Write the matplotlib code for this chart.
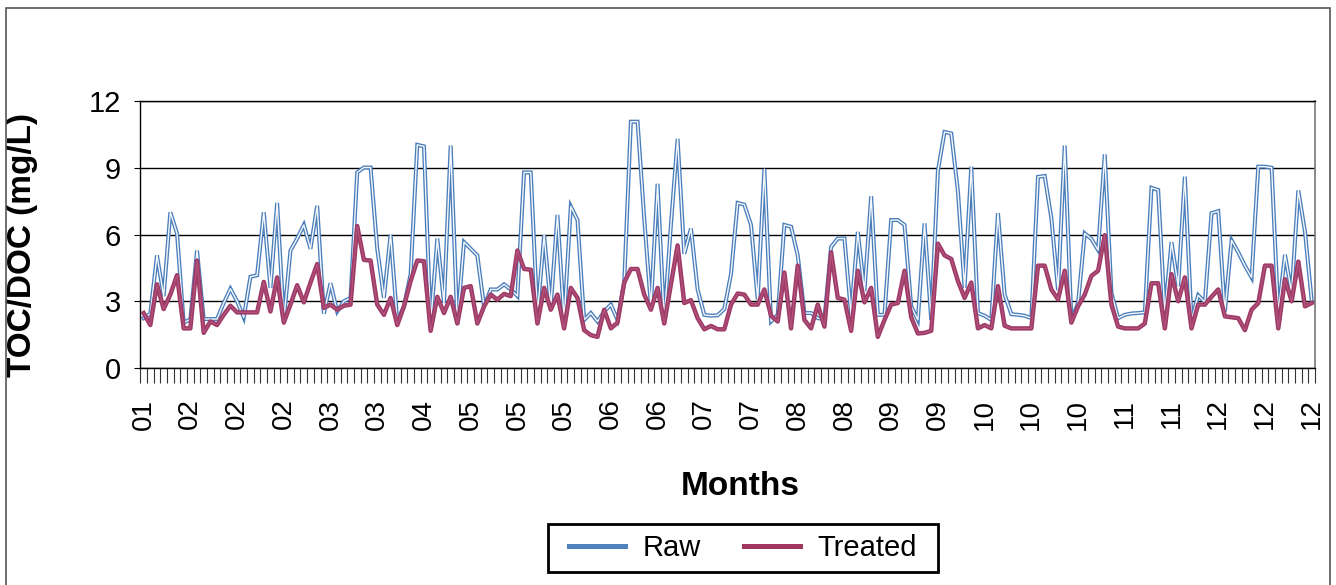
import matplotlib
matplotlib.use("Agg")
import matplotlib.pyplot as plt
from matplotlib.lines import Line2D
from matplotlib.patches import Rectangle
import numpy as np

plt.rcParams["font.family"] = ["Liberation Sans", "DejaVu Sans"]

# weekly TOC/DOC readings over one year
raw = [
    2.24, 2.44, 5.06, 3.23, 7.00, 6.05, 2.04, 2.19, 5.28, 2.20, 2.20, 2.20,
    2.92, 3.56, 3.00, 2.27, 4.10, 4.17, 7.00, 3.60, 7.42, 2.16, 5.28, 5.82,
    6.43, 5.36, 7.29, 2.44, 3.81, 2.54, 3.00, 3.15, 8.79, 9.01, 9.01, 5.36,
    3.15, 6.00, 2.09, 2.77, 4.22, 10.03, 9.96, 2.00, 5.82, 2.92, 10.00, 2.00,
    5.66, 5.36, 5.06, 2.77, 3.53, 3.53, 3.76, 3.53, 3.23, 8.79, 8.79, 2.39,
    5.97, 2.77, 6.88, 2.16, 7.26, 6.65, 2.16, 2.47, 2.09, 2.54, 2.85, 2.16,
    3.84, 11.07, 11.07, 6.73, 2.77, 8.28, 2.16, 6.43, 10.30, 5.13, 6.27, 3.53,
    2.39, 2.35, 2.37, 2.65, 4.22, 7.42, 7.34, 6.43, 3.08, 8.94, 2.09, 2.39,
    6.43, 6.35, 5.06, 2.47, 2.47, 2.24, 2.19, 5.44, 5.82, 5.82, 2.39, 6.12,
    3.46, 7.72, 2.39, 2.39, 6.65, 6.65, 6.43, 2.77, 2.16, 6.50, 2.16, 8.86,
    10.61, 10.54, 7.95, 3.60, 9.05, 2.47, 2.35, 2.16, 6.96, 3.30, 2.42, 2.39,
    2.35, 2.24, 8.59, 8.63, 6.73, 3.50, 10.00, 2.16, 2.92, 6.05, 5.80, 5.30,
    9.60, 3.38, 2.24, 2.39, 2.45, 2.47, 2.50, 8.10, 8.00, 2.47, 5.66, 3.68,
    8.60, 2.16, 3.27, 2.96, 6.96, 7.05, 2.54, 5.74, 5.20, 4.60, 4.07, 9.05,
    9.05, 9.00, 2.47, 5.09, 3.38, 7.98, 6.12, 3.05,
]
treated = [
    2.47, 1.93, 3.76, 2.65, 3.30, 4.17, 1.78, 1.78, 4.83, 1.58, 2.09, 1.93,
    2.39, 2.80, 2.50, 2.50, 2.50, 2.50, 3.87, 2.54, 4.07, 2.04, 2.85, 3.72,
    2.95, 3.84, 4.67, 2.70, 2.85, 2.62, 2.80, 2.85, 6.38, 4.86, 4.83, 2.85,
    2.39, 3.15, 1.93, 2.77, 3.91, 4.83, 4.80, 1.67, 3.20, 2.47, 3.20, 2.00,
    3.60, 3.68, 2.00, 2.77, 3.30, 3.07, 3.33, 3.23, 5.28, 4.45, 4.42, 2.00,
    3.60, 2.62, 3.30, 1.78, 3.60, 3.15, 1.70, 1.48, 1.40, 2.62, 1.78, 2.04,
    3.84, 4.45, 4.45, 3.30, 2.62, 3.60, 2.00, 3.76, 5.51, 2.92, 3.05, 2.24,
    1.74, 1.89, 1.74, 1.74, 2.85, 3.35, 3.30, 2.85, 2.85, 3.53, 2.35, 2.09,
    4.29, 1.78, 4.60, 2.16, 1.78, 2.85, 1.86, 5.20, 3.15, 3.07, 1.67, 4.37,
    2.95, 3.60, 1.40, 2.16, 2.85, 2.92, 4.37, 2.28, 1.55, 1.58, 1.67, 5.59,
    5.06, 4.90, 3.91, 3.15, 3.84, 1.78, 1.93, 1.78, 3.68, 1.90, 1.78, 1.78,
    1.78, 1.78, 4.60, 4.60, 3.53, 3.08, 4.37, 2.04, 2.77, 3.30, 4.14, 4.37,
    5.97, 2.85, 1.86, 1.78, 1.78, 1.78, 2.00, 3.81, 3.81, 1.78, 4.22, 3.00,
    4.07, 1.78, 2.85, 2.85, 3.20, 3.53, 2.32, 2.28, 2.24, 1.70, 2.62, 2.92,
    4.60, 4.60, 1.78, 3.99, 3.00, 4.78, 2.77, 2.92,
]
month_labels = ["01", "02", "02", "02", "03", "03", "04", "05", "05", "05",
                "06", "06", "07", "07", "08", "08", "09", "09", "10", "10",
                "10", "11", "11", "12", "12", "12"]
label_step = 7
y_ticks = [0, 3, 6, 9, 12]

x = np.arange(len(raw))

W, H = 1336, 585
fig = plt.figure(figsize=(W / 100, H / 100), dpi=100)
ax = fig.add_axes([140.3 / W, 1 - 368 / H, 1174.7 / W, 267 / H])

blue = "#4a7ebb"
purple = "#9e3a66"

# double line look: coloured outline with a pale core
ax.plot(x, raw, color=blue, lw=2.9, solid_joinstyle="miter", zorder=3)
ax.plot(x, raw, color="white", lw=1.0, alpha=0.95, zorder=3.1)
ax.plot(x, treated, color=purple, lw=3.2, zorder=4)
ax.plot(x, treated, color="#c0648c", lw=0.9, alpha=0.6, zorder=4.1)

ax.set_xlim(-0.5, len(raw) - 0.5)
ax.set_ylim(0, 12)
ax.set_yticks(y_ticks)
ax.set_yticklabels([str(v) for v in y_ticks])
ax.yaxis.grid(True, color="black", lw=1.0)
ax.set_axisbelow(True)

ax.set_xticks(np.arange(0, len(raw), label_step))
ax.set_xticklabels(month_labels, rotation=90)
ax.set_xticks(np.arange(-0.5, len(raw), 1), minor=True)
ax.tick_params(axis="x", which="major", length=0, pad=22, labelsize=20)
ax.tick_params(axis="x", which="minor", length=11, width=0.8,
               color="#333333", direction="out")
ax.tick_params(axis="y", length=4, width=0.8, direction="out",
               pad=10, labelsize=21)

for side in ["left", "bottom", "top"]:
    ax.spines[side].set_color("black")
    ax.spines[side].set_linewidth(1.0)
ax.spines["right"].set_color("#777777")
ax.spines["right"].set_linewidth(1.2)

ax.set_ylabel("TOC/DOC (mg/L)", fontsize=24, fontweight="bold")
ax.yaxis.set_label_coords(-0.087, 0.46)
ax.set_xlabel("Months", fontsize=24, fontweight="bold")
ax.xaxis.set_label_coords(0.511, -0.385)

handles = [Line2D([], [], color="#4f81bd", lw=3.6),
           Line2D([], [], color="#a0365f", lw=3.6)]
fig.legend(handles, ["Raw", "Treated"], loc="center",
           bbox_to_anchor=(743 / W, 1 - 548 / H), ncol=2,
           fontsize=21, frameon=False,
           handlelength=1.9, handletextpad=0.6, columnspacing=1.5)

# legend box
fig.patches.append(Rectangle((548 / W, 1 - 572 / H), 390 / W, 48 / H,
                             transform=fig.transFigure, fill=False,
                             edgecolor="black", lw=2.0))

# chart area border
fig.patches.append(Rectangle((6 / W, -0.05), 1324 / W, 1.05 - 8 / H,
                             transform=fig.transFigure, fill=False,
                             edgecolor="#555555", lw=1.2))

fig.savefig("out.png", dpi=100)
